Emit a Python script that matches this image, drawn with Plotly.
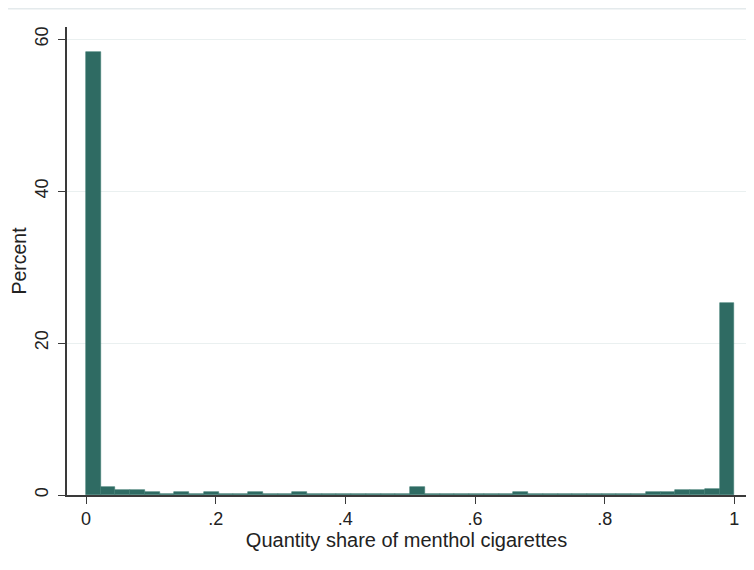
import numpy as np
import plotly.graph_objects as go

# Histogram of quantity share of menthol cigarettes (44 equal-width bins on [0, 1])
bin_start = 0.0
bin_end = 1.0
percent = [
    58.3, 1.1, 0.7, 0.7, 0.42, 0.15, 0.4, 0.15, 0.4, 0.15, 0.15,
    0.4, 0.15, 0.15, 0.4, 0.15, 0.15, 0.15, 0.15, 0.15, 0.15, 0.15,
    1.1, 0.15, 0.15, 0.15, 0.15, 0.15, 0.15, 0.35, 0.15, 0.15, 0.15,
    0.15, 0.15, 0.15, 0.15, 0.15, 0.4, 0.4, 0.65, 0.65, 0.85, 25.3,
]
x_ticks = [0, 0.2, 0.4, 0.6, 0.8, 1]
x_tick_labels = ["0", ".2", ".4", ".6", ".8", "1"]
y_ticks = [0, 20, 40, 60]
y_tick_labels = ["0", "20", "40", "60"]

n_bins = len(percent)
bin_width = (bin_end - bin_start) / n_bins
left_edges = bin_start + bin_width * np.arange(n_bins)

bar_color = "#2f6b63"
axis_color = "#3a3a3a"
grid_color = "#eaf0f0"
font_family = "Liberation Sans, Arial, sans-serif"

fig = go.Figure(
    go.Bar(
        x=left_edges,
        y=percent,
        width=bin_width,
        offset=0,
        marker=dict(color=bar_color, line=dict(color="#3c7a71", width=0.6)),
        hoverinfo="skip",
    )
)

# page body has an 8px margin, so the figure is sized/offset to compensate
fig.update_layout(
    width=746,
    height=562,
    margin=dict(l=59, r=8, t=19, b=75, autoexpand=False),
    paper_bgcolor="white",
    plot_bgcolor="white",
    showlegend=False,
    font=dict(family=font_family, color="#222222"),
    bargap=0,
)

fig.update_xaxes(
    automargin=False,
    range=[-0.0293, 1.018],
    tickvals=x_ticks,
    ticktext=x_tick_labels,
    tickfont=dict(size=18, color="#222222"),
    ticks="outside",
    ticklen=7,
    tickwidth=1.3,
    tickcolor=axis_color,
    showline=True,
    linecolor=axis_color,
    linewidth=1.5,
    showgrid=False,
    zeroline=False,
    title=dict(text="Quantity share of menthol cigarettes",
               font=dict(size=20, color="#222222"), standoff=0),
)

fig.update_yaxes(
    automargin=False,
    range=[0, 61.6],
    tickvals=y_ticks,
    ticktext=y_tick_labels,
    tickangle=-90,
    tickfont=dict(size=18, color="#222222"),
    ticks="outside",
    ticklen=7,
    tickwidth=1.3,
    tickcolor=axis_color,
    ticklabelstandoff=3,
    showline=True,
    linecolor=axis_color,
    linewidth=1.5,
    showgrid=True,
    gridcolor=grid_color,
    gridwidth=1,
    zeroline=False,
    title=dict(text="Percent", font=dict(size=19.5, color="#222222"), standoff=4),
)

# light outer border line at the top of the graph region
fig.add_shape(
    type="line", xref="paper", yref="paper",
    x0=-0.1, x1=1.02, y0=1.039, y1=1.039,
    line=dict(color="#e4eaec", width=1.5),
)

fig.write_html("out.html")
